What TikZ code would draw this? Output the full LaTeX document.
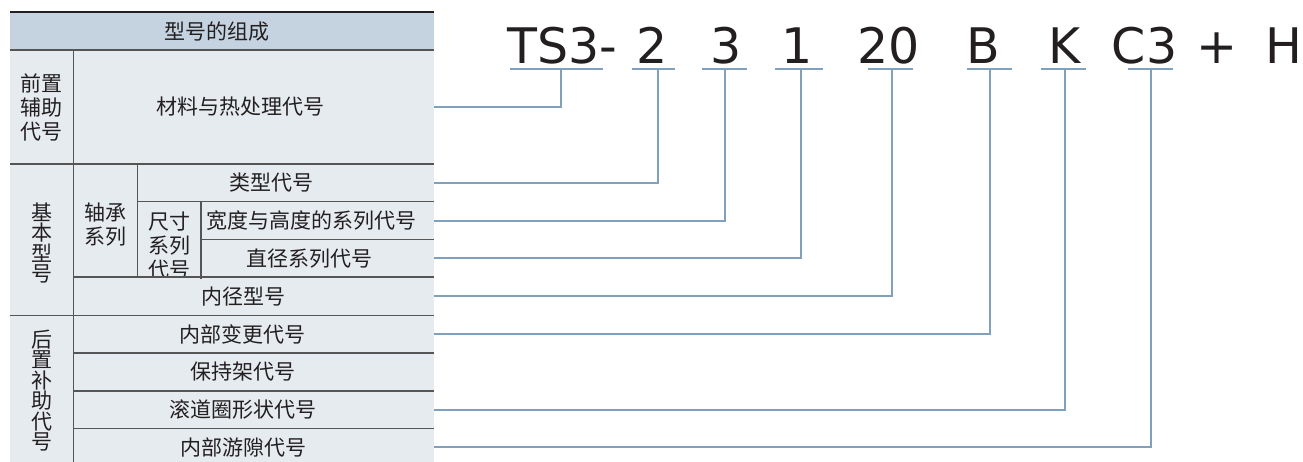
\documentclass[tikz,border=0pt]{standalone}
\usepackage{fontspec}
\setmainfont{Liberation Sans}
\newfontfamily\cjk{Noto Sans CJK SC}
\newfontfamily\codefont{DejaVu Sans}

\definecolor{headfill}{RGB}{197,211,224}
\definecolor{bodyfill}{RGB}{230,235,240}
\definecolor{gridgray}{RGB}{85,85,85}
\definecolor{linkblue}{RGB}{127,161,189}
\definecolor{ink}{RGB}{35,31,32}

\begin{document}
\lineskiplimit=-20pt
\begin{tikzpicture}[x=1pt,y=-1pt,
  cell/.style={anchor=north west, inner sep=0pt, outer sep=0pt, fill=bodyfill,
    align=center, text=ink, font=\cjk\fontsize{21}{24}\selectfont},
  % single-line cells: the label sits a little left of the cell centre
  rowcell/.style={anchor=north west, inner sep=0pt, outer sep=0pt, fill=bodyfill,
    text=ink, font=\cjk\fontsize{21}{24}\selectfont},
  vstack/.style={cell, font=\cjk\fontsize{21}{20.5}\selectfont},
  grid/.style={draw=gridgray, line width=1.1pt},
  link/.style={draw=linkblue, line width=2pt},
  code/.style={anchor=base, inner sep=0pt, text=ink, font=\codefont\fontsize{49}{49}\selectfont},
]
\useasboundingbox (0,0) rectangle (1303,461);
\begin{scope}
\clip (0,0) rectangle (1303,461);

% --- table cells (later cells cover any overflow of earlier ones)
\node[rowcell, fill=headfill, minimum width=424pt, minimum height=37.7pt] (head) at (10,12.3) {型号的组成\kern11pt};

\node[cell, minimum width=63.5pt, minimum height=114pt] (cpre) at (10,50) {前置\\辅助\\代号};
\node[rowcell, minimum width=360.5pt, minimum height=114pt] (cmat) at (73.5,50) {材料与热处理代号\kern27.5pt};

\node[vstack, minimum width=63.5pt, minimum height=151.5pt] (cbasic) at (10,164) {\rule{0pt}{24pt}基\\本\\型\\号};
\node[cell, minimum width=63.8pt, minimum height=113pt] (cseries) at (73.5,164) {\rule{0pt}{26pt}轴承\\系列};
\node[rowcell, minimum width=296.7pt, minimum height=37.7pt] (ctype) at (137.3,164) {类型代号\kern28pt};
\node[cell, minimum width=63.7pt, minimum height=75.3pt] (csize) at (137.3,201.7) {\rule{0pt}{28pt}尺寸\\系列\\代号};
\node[rowcell, minimum width=233pt, minimum height=37.8pt] (cwidth) at (201,201.7) {宽度与高度的系列代号\kern13pt};
\node[rowcell, minimum width=233pt, minimum height=37.5pt] (cdia) at (201,239.5) {直径系列代号\kern17pt};
\node[rowcell, minimum width=360.5pt, minimum height=38.5pt] (cbore) at (73.5,277) {内径型号\kern21.5pt};

\node[vstack, minimum width=63.5pt, minimum height=150.5pt] (cpost) at (10,315.5) {后\\置\\补\\助\\代\\号};
\node[rowcell, minimum width=360.5pt, minimum height=37.5pt] (cint) at (73.5,315.5) {内部变更代号\kern22pt};
\node[rowcell, minimum width=360.5pt, minimum height=38pt] (ccage) at (73.5,353) {保持架代号\kern22pt};
\node[rowcell, minimum width=360.5pt, minimum height=37.5pt] (crace) at (73.5,391) {滚道圈形状代号\kern22pt};
\node[rowcell, minimum width=360.5pt, minimum height=37.5pt] (cclr) at (73.5,428.5) {内部游隙代号\kern21pt};

% --- rules of the table
\draw[line width=2pt, draw=ink] (head.north west) -- (head.north east);
\draw[grid] (head.south west) -- (head.south east);
\draw[grid] (cpre.south west) -- (cmat.south east);
\draw[grid] (ctype.south west) -- (ctype.south east);
\draw[grid] (cwidth.south west) -- (cwidth.south east);
\draw[grid] (cseries.south west) -- (cdia.south east);
\draw[grid] (cbasic.south west) -- (cbore.south east);
\draw[grid] (cint.south west) -- (cint.south east);
\draw[grid] (ccage.south west) -- (ccage.south east);
\draw[grid] (crace.south west) -- (crace.south east);
\draw[grid] (cpre.north east) -- (cpost.south east);
\draw[grid] (cseries.north east) -- (cseries.south east);
\draw[grid] (csize.north east) -- (csize.south east);
\end{scope}

% --- designation string
\node[code] (kTS) at (562,63.3) {TS3-};
\node[code] (k2)  at (652.5,63.3) {2};
\node[code] (k3)  at (726,63.3) {3};
\node[code] (k1)  at (797.5,63.3) {1};
\node[code] (k20) at (888.5,63.3) {20};
\node[code] (kB)  at (983,63.3) {B};
\node[code] (kK)  at (1065,63.3) {K};
\node[code] (kC)  at (1144.5,63.3) {C3};
\node[code] (kp)  at (1217.5,63.3) {+};
\node[code] (kH)  at (1284,63.3) {H};

% --- underline ends and tap points
\coordinate (uTSl) at (510,69);  \coordinate (uTSr) at (603,69);  \coordinate (uTS) at (561,69);
\coordinate (u2l) at (632,69);   \coordinate (u2r) at (675,69);   \coordinate (u2) at (658,69);
\coordinate (u3l) at (702,69);   \coordinate (u3r) at (747,69);   \coordinate (u3) at (725,69);
\coordinate (u1l) at (775,69);   \coordinate (u1r) at (823,69);   \coordinate (u1) at (801,69);
\coordinate (u20l) at (868,69);  \coordinate (u20r) at (913,69);  \coordinate (u20) at (892,69);
\coordinate (uBl) at (967,69);   \coordinate (uBr) at (1012,69);  \coordinate (uB) at (990,69);
\coordinate (uKl) at (1041,69);  \coordinate (uKr) at (1086,69);  \coordinate (uK) at (1065,69);
\coordinate (uCl) at (1128,69);  \coordinate (uCr) at (1173,69);  \coordinate (uC) at (1150.5,69);

\foreach \u in {TS,2,3,1,20,B,K,C}
  \draw[link] (u\u l) -- (u\u r);

% --- connectors from each part of the designation to its table row
\draw[link] (uTS) |- (cmat.east);
\draw[link] (u2)  |- (ctype.east);
\draw[link] (u3)  |- (cwidth.east);
\draw[link] (u1)  |- (cdia.east);
\draw[link] (u20) |- (cbore.east);
\draw[link] (uB)  |- (cint.east);
\draw[link] (uK)  |- (crace.east);
\draw[link] (uC)  |- (cclr.east);
\end{tikzpicture}
\end{document}
